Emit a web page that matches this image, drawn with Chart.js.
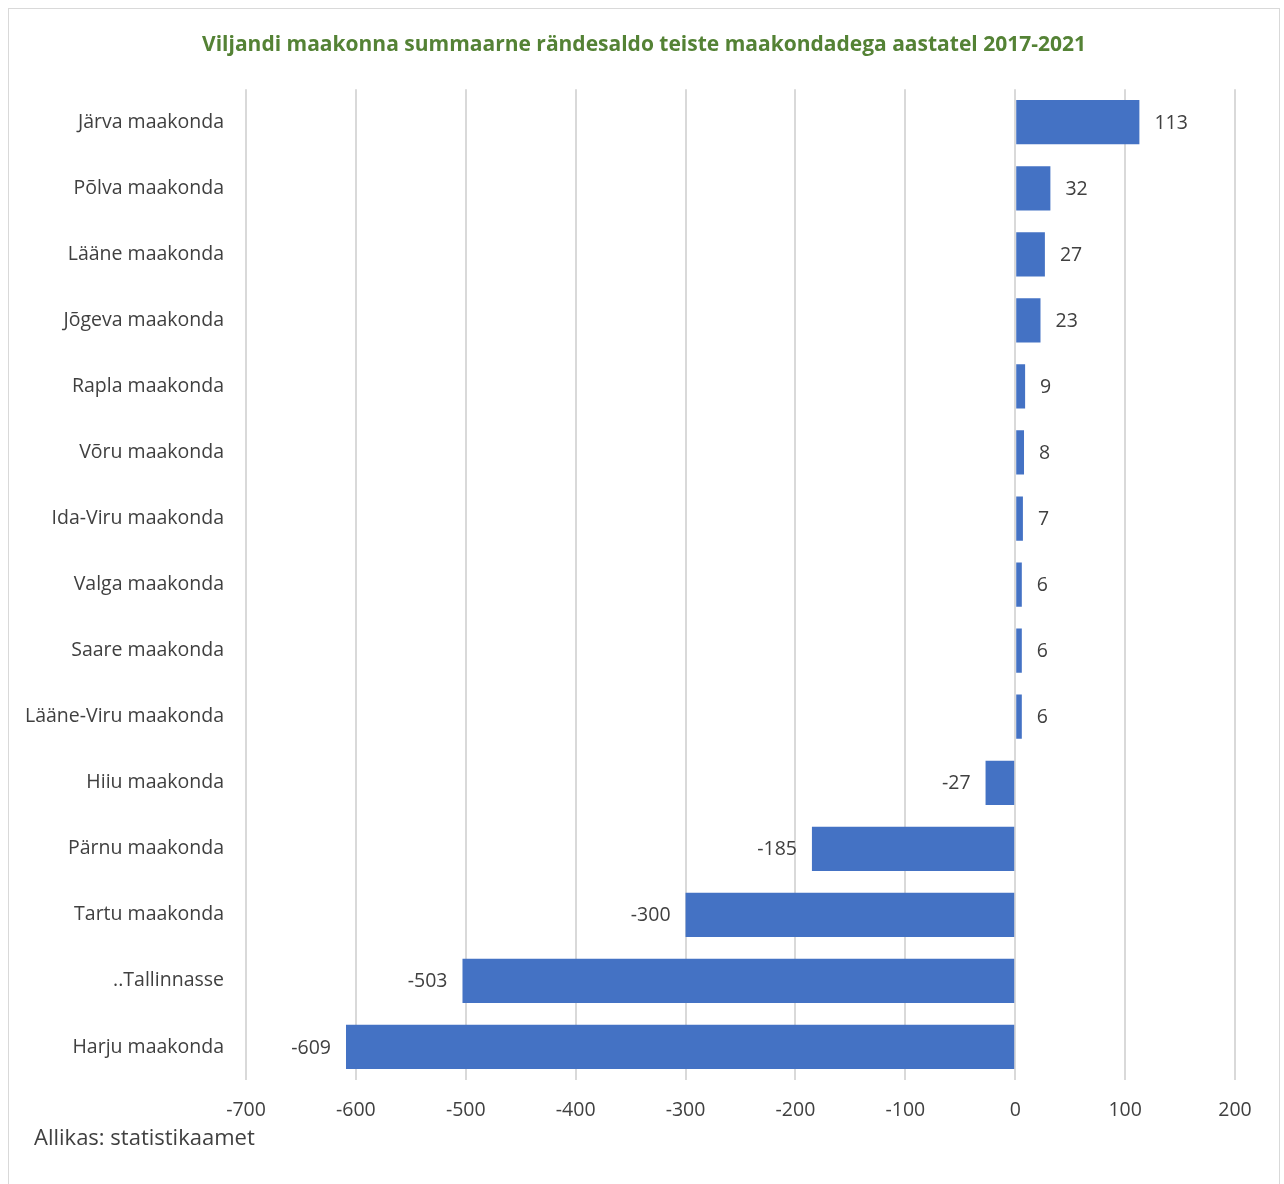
<!DOCTYPE html>
<html>
<head>
<meta charset="utf-8">
<script src="https://cdn.jsdelivr.net/npm/chart.js@4"></script>
<style>
  body { margin: 0; background: #fff; }
  #box {
    position: absolute; left: 8px; top: 8px; width: 1270px; height: 1180px;
    border: 1px solid #d9d9d9; background: #fff;
  }
  #wrap { position: absolute; left: 0; top: 0; width: 1270px; height: 1171px; }
  #source {
    position: absolute; left: 25px; top: 1112px;
    font-family: 'Open Sans', sans-serif; font-size: 22px; color: #404040;
  }
</style>
</head>
<body>
<div id="box">
  <div id="wrap"><canvas id="chart"></canvas></div>
  <div id="source">Allikas: statistikaamet</div>
</div>
<script>
const FONT = "'Open Sans', sans-serif";
const TEXT = '#404040';

const regions = [
  'Järva maakonda', 'Põlva maakonda', 'Lääne maakonda', 'Jõgeva maakonda',
  'Rapla maakonda', 'Võru maakonda', 'Ida-Viru maakonda', 'Valga maakonda',
  'Saare maakonda', 'Lääne-Viru maakonda', 'Hiiu maakonda', 'Pärnu maakonda',
  'Tartu maakonda', '..Tallinnasse', 'Harju maakonda'
];
const saldo = [113, 32, 27, 23, 9, 8, 7, 6, 6, 6, -27, -185, -300, -503, -609];
const xMin = -700;
const xMax = 200;
const xStep = 100;

// values written beside the end of each bar
const barLabels = {
  id: 'barLabels',
  afterDatasetsDraw(chart) {
    const ctx = chart.ctx;
    const meta = chart.getDatasetMeta(0);
    ctx.save();
    ctx.font = '19.5px ' + FONT;
    ctx.fillStyle = TEXT;
    ctx.textBaseline = 'middle';
    meta.data.forEach((bar, i) => {
      const v = saldo[i];
      if (v >= 0) {
        ctx.textAlign = 'left';
        ctx.fillText(String(v), bar.x + 15, bar.y + 1);
      } else {
        ctx.textAlign = 'right';
        ctx.fillText(String(v), bar.x - 15, bar.y + 1);
      }
    });
    ctx.restore();
  }
};

new Chart(document.getElementById('chart'), {
  type: 'bar',
  data: {
    labels: regions,
    datasets: [{
      data: saldo,
      yAxisID: 'y',
      backgroundColor: '#4472C4',
      borderWidth: 0,
      barPercentage: 0.67,
      categoryPercentage: 1
    }]
  },
  options: {
    indexAxis: 'y',
    responsive: true,
    maintainAspectRatio: false,
    animation: false,
    layout: { padding: 0 },
    plugins: {
      legend: { display: false },
      tooltip: { enabled: false },
      title: {
        display: true,
        text: 'Viljandi maakonna summaarne rändesaldo teiste maakondadega aastatel 2017-2021',
        color: '#548235',
        font: { family: FONT, size: 21, weight: 'bold' },
        padding: { top: 23, bottom: 32 }
      }
    },
    scales: {
      x: {
        min: xMin,
        max: xMax,
        ticks: {
          stepSize: xStep,
          color: TEXT,
          font: { family: FONT, size: 19.5 },
          padding: 19
        },
        grid: { color: '#d9d9d9', lineWidth: 2, drawTicks: false },
        border: { display: false },
        afterFit(scale) { scale.height = 100; }
      },
      y: {
        ticks: {
          color: TEXT,
          font: { family: FONT, size: 19.5 },
          padding: 22
        },
        grid: { display: false, drawTicks: false },
        border: { display: false },
        afterFit(scale) { scale.width = 237; }
      },
      // empty strip on the right so the title stays centred on the whole box
      spacer: {
        type: 'linear',
        position: 'right',
        ticks: { display: false },
        grid: { display: false, drawTicks: false },
        border: { display: false },
        afterFit(scale) { scale.width = 44; }
      }
    }
  },
  plugins: [barLabels]
});
</script>
</body>
</html>
